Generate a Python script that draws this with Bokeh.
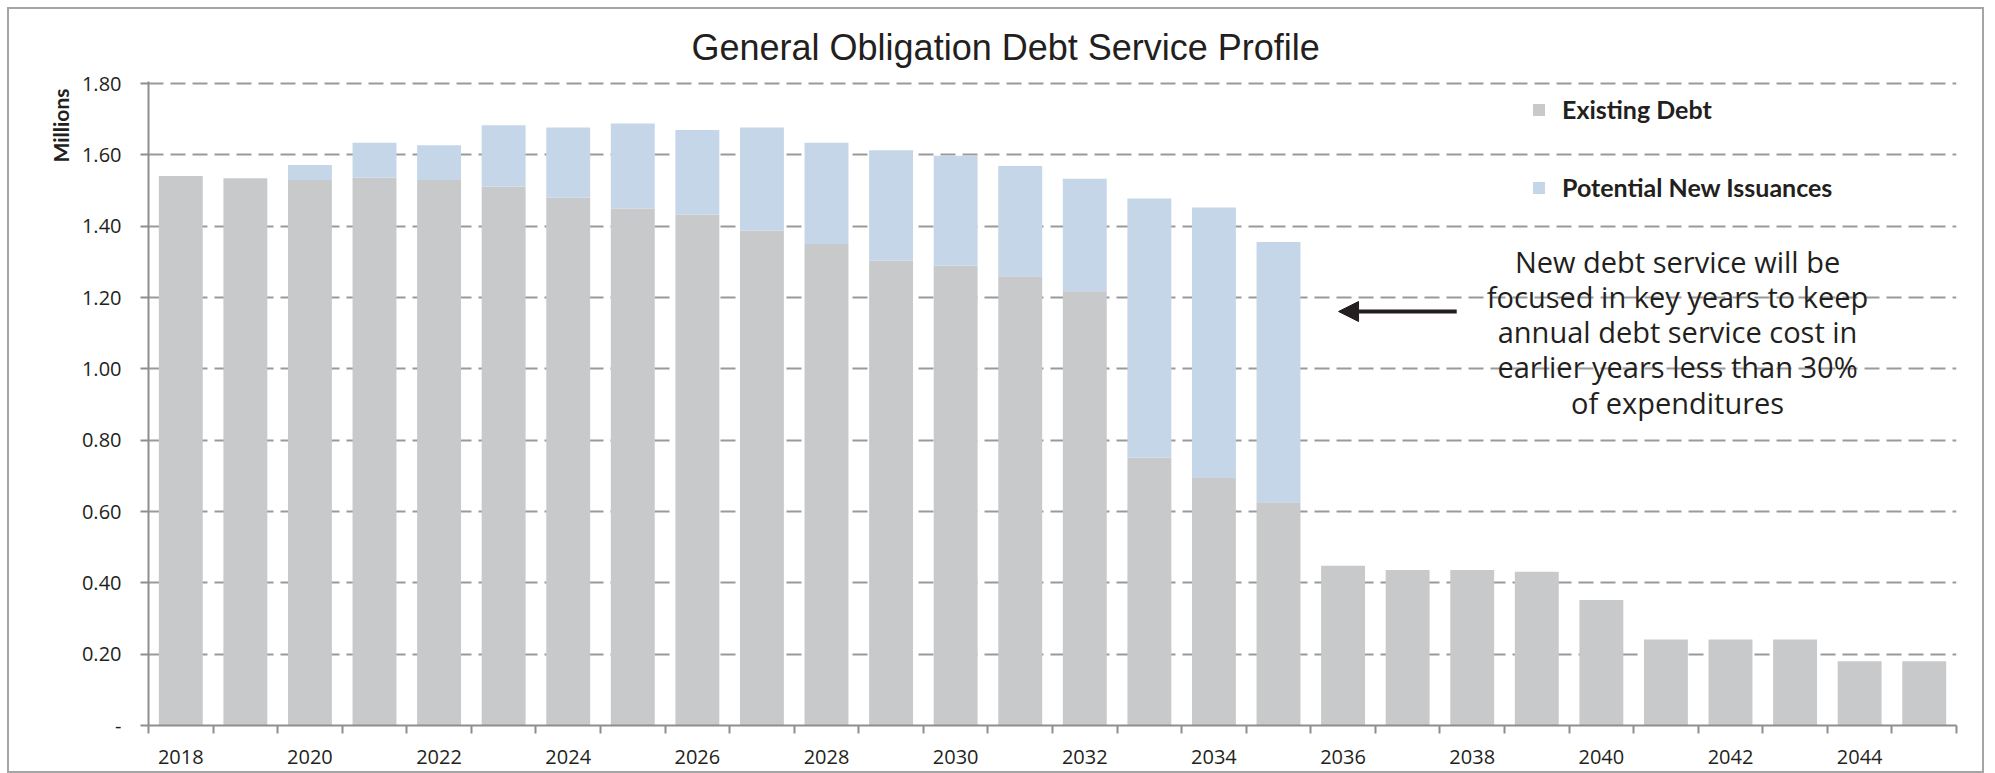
from bokeh.plotting import figure
from bokeh.models import (FixedTicker, NumeralTickFormatter, Legend, LegendItem,
                          Label, Arrow, NormalHead, Range1d, ColumnDataSource, Title)
from bokeh.embed import file_html
from bokeh.resources import INLINE

# ---------------- data ----------------
years = ["2018", "2019", "2020", "2021", "2022", "2023", "2024", "2025", "2026", "2027",
         "2028", "2029", "2030", "2031", "2032", "2033", "2034", "2035", "2036", "2037",
         "2038", "2039", "2040", "2041", "2042", "2043", "2044", "2045"]
existing_debt = [1.541, 1.535, 1.530, 1.536, 1.530, 1.511, 1.480, 1.450, 1.432, 1.388,
                 1.350, 1.303, 1.289, 1.260, 1.218, 0.751, 0.694, 0.626, 0.448, 0.436,
                 0.436, 0.431, 0.352, 0.241, 0.241, 0.241, 0.180, 0.180]
potential_new = [0.0, 0.0, 0.042, 0.098, 0.097, 0.172, 0.197, 0.238, 0.238, 0.289,
                 0.284, 0.310, 0.309, 0.309, 0.315, 0.727, 0.759, 0.730, 0.0, 0.0,
                 0.0, 0.0, 0.0, 0.0, 0.0, 0.0, 0.0, 0.0]
labeled_years = ["2018", "2020", "2022", "2024", "2026", "2028", "2030", "2032",
                 "2034", "2036", "2038", "2040", "2042", "2044"]
y_ticks = [0.0, 0.2, 0.4, 0.6, 0.8, 1.0, 1.2, 1.4, 1.6, 1.8]
series_names = ["Existing Debt", "Potential New Issuances"]
title_text = "General Obligation Debt Service Profile"
y_label = "Millions"
note_lines = ["New debt service will be", "focused in key years to keep",
              "annual debt service cost in", "earlier years less than 30%",
              "of expenditures"]

# ---------------- styles ----------------
GREY = "#c8c9cb"
BLUE = "#c5d6e8"
AXIS = "#8e8e8e"
GRID = "#9a9a9a"
TEXT = "#231f20"
TICK_FONT = "Open Sans"

n = len(years)
xpos = [i + 0.5 for i in range(n)]
src = ColumnDataSource(dict(x=xpos, year=years, existing=existing_debt, new=potential_new))

p = figure(width=1977, height=766, x_range=Range1d(0, n), y_range=Range1d(0, 1.806),
           output_backend="svg", toolbar_location=None,
           min_border_left=139, min_border_right=30, min_border_top=72, min_border_bottom=50)
p.margin = (7, 7, 0, 7)
p.styles = {"border": "2px solid #a5a5a5"}
p.outline_line_color = None
p.background_fill_color = "white"
p.border_fill_color = "white"

# title
p.title.text = title_text
p.title.align = "left"
p.title.offset = 543
p.title.standoff = 27
p.title.text_font = "Liberation Sans"
p.title.text_font_style = "normal"
p.title.text_font_size = "36px"
p.title.text_color = TEXT

# y unit label
p.add_layout(Title(text=y_label, align="right", offset=7, standoff=12,
                   text_font="Lato", text_font_style="bold", text_font_size="21px",
                   text_color=TEXT), "left")

# grid
p.xgrid.visible = False
p.ygrid.grid_line_color = GRID
p.ygrid.grid_line_width = 2
p.ygrid.grid_line_dash = "15 7"

# bars
rs = p.vbar_stack(["existing", "new"], x="x", width=0.68, color=[GREY, BLUE],
                  line_color=None, source=src)

# y axis
ya = p.yaxis[0]
ya.ticker = FixedTicker(ticks=y_ticks)
ya.formatter = NumeralTickFormatter(format="0.00")
ya.major_label_overrides = {0: "-"}
ya.axis_line_color = AXIS
ya.axis_line_width = 2
ya.major_tick_line_color = AXIS
ya.major_tick_line_width = 2
ya.major_tick_out = 8
ya.major_tick_in = 0
ya.minor_tick_line_color = None
ya.major_label_standoff = 19
ya.major_label_text_font = TICK_FONT
ya.major_label_text_font_size = "20px"
ya.major_label_text_color = TEXT

# x axis: labels under every other bar, ticks at category boundaries
xa = p.xaxis[0]
label_pos = [xpos[years.index(y)] for y in labeled_years]
xa.ticker = FixedTicker(ticks=label_pos, minor_ticks=list(range(n + 1)))
xa.major_label_overrides = {pos: y for pos, y in zip(label_pos, labeled_years)}
xa.axis_line_color = AXIS
xa.axis_line_width = 2
xa.major_tick_line_color = None
xa.major_tick_out = 0
xa.major_tick_in = 0
xa.minor_tick_line_color = AXIS
xa.minor_tick_line_width = 2
xa.minor_tick_out = 8
xa.minor_tick_in = 0
xa.major_label_standoff = 16
xa.major_label_text_font = TICK_FONT
xa.major_label_text_font_size = "20px"
xa.major_label_text_color = TEXT

# legend
legend = Legend(items=[LegendItem(label=series_names[0], renderers=[rs[0]]),
                       LegendItem(label=series_names[1], renderers=[rs[1]])],
                location=(1383, 523), orientation="vertical",
                glyph_width=15, glyph_height=15, label_height=30, spacing=48,
                label_standoff=16, padding=0, margin=0,
                border_line_color=None, background_fill_alpha=0,
                label_text_font="Lato", label_text_font_style="bold",
                label_text_font_size="25px", label_text_color=TEXT)
p.add_layout(legend)

# annotation text
note_y = [1.301, 1.202, 1.104, 1.007, 0.906]
for line, yy in zip(note_lines, note_y):
    p.add_layout(Label(x=23.68, y=yy, text=line, text_align="center",
                       text_baseline="middle", text_font="Open Sans",
                       text_font_size="29px", text_color=TEXT))

# arrow
p.add_layout(Arrow(x_start=20.26, y_start=1.161, x_end=18.43, y_end=1.161,
                   line_width=4, line_color=TEXT,
                   end=NormalHead(size=20, fill_color=TEXT, line_color=TEXT)))

open("out.html", "w").write(file_html(p, INLINE))
